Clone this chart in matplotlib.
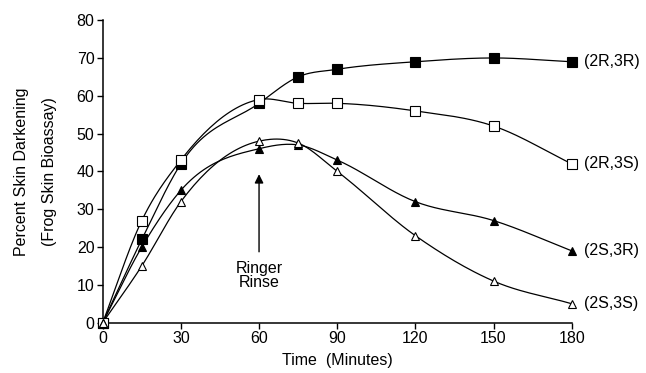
import matplotlib.pyplot as plt
import numpy as np

plt.rcParams['font.family'] = ['Liberation Sans', 'DejaVu Sans']

# Values
time = [0, 15, 30, 60, 75, 90, 120, 150, 180]
r2r3 = [0, 22, 42, 58, 65, 67, 69, 70, 69]
r2s3 = [0, 27, 43, 59, 58, 58, 56, 52, 42]
s2r3 = [0, 20, 35, 46, 47, 43, 32, 27, 19]
s2s3 = [0, 15, 32, 48, 47.5, 40, 23, 11, 5]
labels = ['(2R,3R)', '(2R,3S)', '(2S,3R)', '(2S,3S)']


def smooth(x, y, n=25):
    # cubic hermite curve through the points (hand-drawn look)
    x = np.asarray(x, float)
    y = np.asarray(y, float)
    m = np.gradient(y, x)
    xs, ys = [], []
    for i in range(len(x) - 1):
        h = x[i + 1] - x[i]
        t = np.linspace(0, 1, n)
        h00 = 2 * t**3 - 3 * t**2 + 1
        h10 = t**3 - 2 * t**2 + t
        h01 = -2 * t**3 + 3 * t**2
        h11 = t**3 - t**2
        xs.append(x[i] + t * h)
        ys.append(h00 * y[i] + h10 * h * m[i] + h01 * y[i + 1] + h11 * h * m[i + 1])
    return np.concatenate(xs), np.concatenate(ys)


fs = 11.5
fig = plt.figure(figsize=(6.46, 3.73), dpi=100)
ax = fig.add_axes([0.159, 0.135, 0.726, 0.811])

series = [r2r3, r2s3, s2r3, s2s3]
markers = ['s', 's', '^', '^']
faces = ['black', 'white', 'black', 'white']
for vals, mk, fc, lab in zip(series, markers, faces, labels):
    sx, sy = smooth(time, vals)
    ax.plot(sx, sy, color='black', lw=0.9, zorder=2, clip_on=False)
    ax.plot(time, vals, linestyle='none', marker=mk, markersize=6.5 if mk == 's' else 6,
            markerfacecolor=fc, markeredgecolor='black', markeredgewidth=0.8,
            zorder=3, clip_on=False)
    ax.annotate(lab, xy=(time[-1], vals[-1]), xytext=(9, 0), textcoords='offset points',
                va='center', ha='left', fontsize=fs)

ax.annotate('', xy=(60, 40), xytext=(60, 18),
            arrowprops=dict(arrowstyle='-|>', color='black', lw=1.0, mutation_scale=13))
ax.text(60, 12.5, 'Ringer\nRinse', ha='center', va='center', fontsize=fs, linespacing=0.95)

ax.set_xlim(0, 180)
ax.set_ylim(0, 80)
ax.set_xticks(range(0, 181, 30))
ax.set_yticks(range(0, 81, 10))
ax.spines['top'].set_visible(False)
ax.spines['right'].set_visible(False)
for s in ['left', 'bottom']:
    ax.spines[s].set_linewidth(1.1)
ax.tick_params(axis='both', labelsize=fs, length=4, width=1, pad=2)
ax.set_xlabel('Time  (Minutes)', fontsize=fs, labelpad=5)
ax.set_ylabel('Percent Skin Darkening\n(Frog Skin Bioassay)', fontsize=fs, labelpad=14,
              linespacing=2.1)

fig.savefig('out.png', dpi=100)
